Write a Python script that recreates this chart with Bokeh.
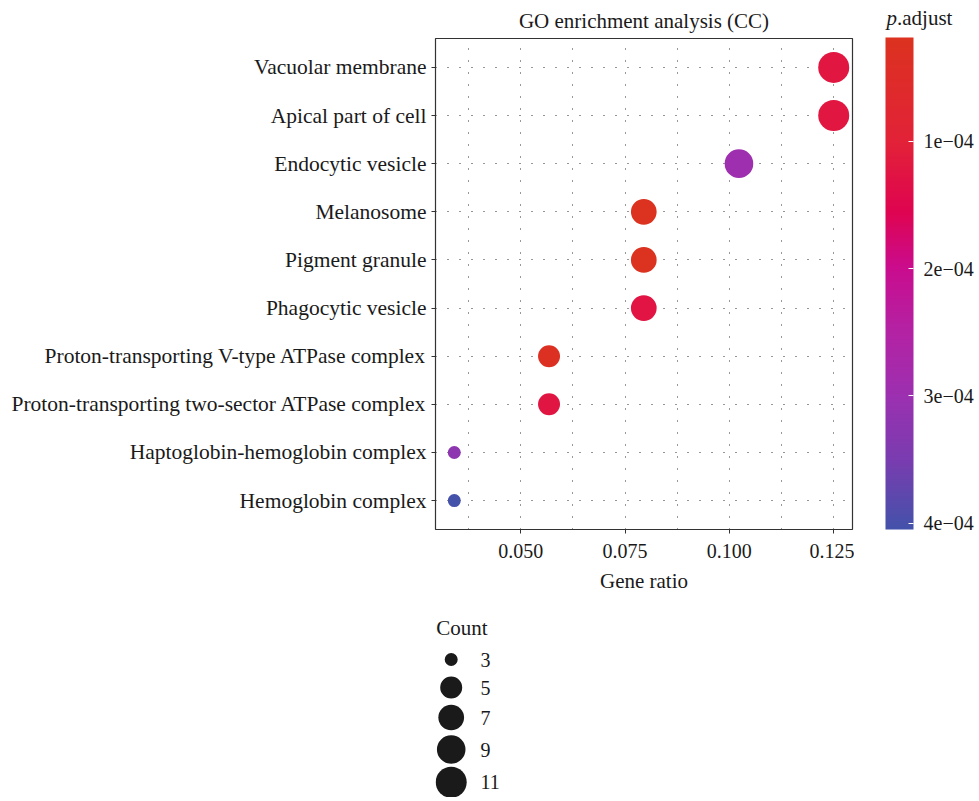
import numpy as np
from bokeh.plotting import figure
from bokeh.models import (ColumnDataSource, Range1d, FactorRange, FixedTicker,
                          NumeralTickFormatter, LinearColorMapper, ColorBar, AllLabels)
from bokeh.layouts import column, row
from bokeh.core.properties import value
from bokeh.embed import file_html
from bokeh.resources import INLINE

# ---------------- data ----------------
terms = [
    "Vacuolar membrane",
    "Apical part of cell",
    "Endocytic vesicle",
    "Melanosome",
    "Pigment granule",
    "Phagocytic vesicle",
    "Proton-transporting V-type ATPase complex",
    "Proton-transporting two-sector ATPase complex",
    "Haptoglobin-hemoglobin complex",
    "Hemoglobin complex",
]
gene_ratio = [0.1250, 0.1250, 0.1023, 0.0795, 0.0795, 0.0795, 0.0568, 0.0568, 0.0341, 0.0341]
counts = [11, 11, 9, 7, 7, 7, 5, 5, 3, 3]
p_adjust = [1.20e-4, 1.20e-4, 2.95e-4, 1.85e-5, 1.85e-5, 1.26e-4, 2.6e-5, 1.24e-4, 3.2e-4, 4.05e-4]

x_ticks = [0.050, 0.075, 0.100, 0.125]
x_minor = [0.0375, 0.0625, 0.0875, 0.1125]
p_ticks = [1e-4, 2e-4, 3e-4, 4e-4]
p_tick_labels = ["1e\u221204", "2e\u221204", "3e\u221204", "4e\u221204"]
legend_counts = [3, 5, 7, 9, 11]

title_text = "GO enrichment analysis (CC)"
x_label = "Gene ratio"
legend_title = "Count"

# ---------------- styles ----------------
FONT = "Liberation Serif"
TXT = "#1a1a1a"
GRID = "#333333"
D_MIN, D_MAX = 13.0, 31.0
P_SCALE = 1e4  # colour variable is -p.adjust * 1e4 so that small p sits at the top

stop_p = [1.85e-5, 1.0e-4, 1.55e-4, 2.0e-4, 2.5e-4, 3.0e-4, 3.5e-4, 4.05e-4]
stop_c = ["#DC3220", "#E22238", "#DF0450", "#CA0C8E", "#B422A4", "#9C30B0", "#7A3CB0", "#4452AA"]


def hex2rgb(h):
    h = h.lstrip("#")
    return [int(h[i:i + 2], 16) for i in (0, 2, 4)]


p_min, p_max = min(p_adjust), max(p_adjust)
rgb = np.array([hex2rgb(c) for c in stop_c], dtype=float)
palette = []
for i in range(256):
    pv = p_max - i / 255 * (p_max - p_min)  # index 0 = largest p (blue, bottom)
    r, g, b = (int(round(np.interp(pv, stop_p, rgb[:, k]))) for k in range(3))
    palette.append("#%02x%02x%02x" % (r, g, b))

mapper = LinearColorMapper(palette=palette, low=-p_max * P_SCALE, high=-p_min * P_SCALE)


def diam(c):
    lo, hi = min(legend_counts), max(legend_counts)
    return D_MIN + (D_MAX - D_MIN) * np.sqrt((c - lo) / (hi - lo))


src = ColumnDataSource(dict(
    term=terms,
    ratio=gene_ratio,
    count=counts,
    p=p_adjust,
    cval=[-v * P_SCALE for v in p_adjust],
    size=[diam(c) for c in counts],
))


def no_align(fig):
    if "frame_align" in fig.properties():
        fig.frame_align = False


# ---------------- main figure ----------------
MAIN_W, MAIN_H = 854, 604
FULL_W = 975
p = figure(
    width=MAIN_W, height=MAIN_H,
    x_range=Range1d(0.0296, 0.1295),
    y_range=FactorRange(factors=terms[::-1], range_padding=0.02, range_padding_units="percent"),
    output_backend="svg", toolbar_location=None,
    min_border_left=435, min_border_right=2, min_border_top=37, min_border_bottom=75,
)
p.title.text = title_text
p.title.align = "center"
p.title.text_font = FONT
p.title.text_font_size = "21px"
p.title.text_font_style = "normal"
p.title.text_color = TXT
p.title.standoff = 12

p.outline_line_color = "#333333"
p.outline_line_width = 1.2
p.background_fill_color = "white"
p.border_fill_color = "white"

p.xaxis.ticker = FixedTicker(ticks=x_ticks, minor_ticks=x_minor)
p.xaxis.formatter = NumeralTickFormatter(format="0.000")
p.xaxis.axis_label = x_label
for ax in (p.xaxis, p.yaxis):
    ax.axis_line_color = None
    ax.major_tick_line_color = "#333333"
    ax.major_tick_in = 0
    ax.major_tick_out = 4
    ax.minor_tick_line_color = None
    ax.major_label_text_font = FONT
    ax.major_label_text_color = TXT
    ax.axis_label_text_font = FONT
    ax.axis_label_text_font_style = "normal"
    ax.axis_label_text_color = TXT
    ax.axis_label_text_font_size = "21px"
p.xaxis.major_label_text_font_size = "20px"
p.yaxis.major_label_text_font_size = "21.5px"
p.xaxis.major_label_standoff = 10
p.xaxis.axis_label_standoff = 8
p.yaxis.major_label_standoff = 5

for g in (p.xgrid, p.ygrid):
    g.grid_line_color = GRID
    g.grid_line_dash = "1 11"
    g.grid_line_width = 1
p.xgrid.minor_grid_line_color = GRID
p.xgrid.minor_grid_line_dash = "1 11"

p.scatter(x="ratio", y="term", size="size", source=src,
          fill_color={"field": "cval", "transform": mapper}, line_color=None)

# ---------------- colour bar panel ----------------
CB_W = FULL_W - MAIN_W
cbf = figure(width=CB_W, height=MAIN_H, x_range=Range1d(MAIN_W, FULL_W), y_range=Range1d(MAIN_H, 0),
             output_backend="svg", toolbar_location=None, x_axis_type=None, y_axis_type=None,
             min_border_left=0, min_border_right=0, min_border_top=0, min_border_bottom=0)
no_align(cbf)
cbf.grid.visible = False
cbf.outline_line_color = None
cbf.background_fill_color = "white"
cbf.border_fill_color = "white"

cb_ticks = [-int(round(t * P_SCALE)) for t in p_ticks]
cb = ColorBar(
    color_mapper=mapper,
    ticker=FixedTicker(ticks=cb_ticks),
    major_label_overrides={k: lab for k, lab in zip(cb_ticks, p_tick_labels)},
    major_label_policy=AllLabels(),
    width=28, height=492, location=(885 - MAIN_W, MAIN_H - 529), margin=0, padding=0,
    major_label_text_font=FONT, major_label_text_font_size="20px",
    major_label_text_color=TXT, label_standoff=10,
    major_tick_line_color="white", major_tick_in=5, major_tick_out=0,
    minor_tick_line_color=None,
    bar_line_color=None, border_line_color=None, background_fill_color=None,
)
cbf.add_layout(cb, "center")
cbf.text(x=[886], y=[17], text=["p"], text_font=value(FONT), text_font_style="italic",
         text_font_size="21px", text_color=TXT, text_baseline="middle", text_align="left")
cbf.text(x=[896.5], y=[17], text=[".adjust"], text_font=value(FONT),
         text_font_size="21px", text_color=TXT, text_baseline="middle", text_align="left")

# ---------------- size legend (Count) ----------------
LG_TOP, LG_BOT = MAIN_H, 797
lg = figure(width=FULL_W, height=LG_BOT - LG_TOP, x_range=Range1d(435, 852),
            y_range=Range1d(LG_BOT, LG_TOP),
            output_backend="svg", toolbar_location=None,
            x_axis_type=None, y_axis_type=None,
            min_border_left=435, min_border_right=FULL_W - 852, min_border_top=0, min_border_bottom=0)
no_align(lg)
lg.grid.visible = False
lg.outline_line_color = None
lg.background_fill_color = "white"
lg.border_fill_color = "white"

legend_y = [659, 687, 717, 749, 781.7]  # key centres (layout)
lsrc = ColumnDataSource(dict(
    x=[450.7] * len(legend_counts),
    y=legend_y,
    size=[diam(c) for c in legend_counts],
    lab=[str(c) for c in legend_counts],
    tx=[480] * len(legend_counts),
))
lg.scatter(x="x", y="y", size="size", source=lsrc, fill_color="#1a1a1a", line_color=None)
lg.text(x="tx", y="y", text="lab", source=lsrc, text_font=value(FONT), text_font_size="20px",
        text_color=TXT, text_baseline="middle", text_align="left")
lg.text(x=[435.7], y=[627], text=[legend_title], text_font=value(FONT), text_font_size="21px",
        text_color=TXT, text_baseline="middle", text_align="left")

layout = column(row(p, cbf, spacing=0), lg, spacing=0)
open("out.html", "w").write(file_html(layout, INLINE))
